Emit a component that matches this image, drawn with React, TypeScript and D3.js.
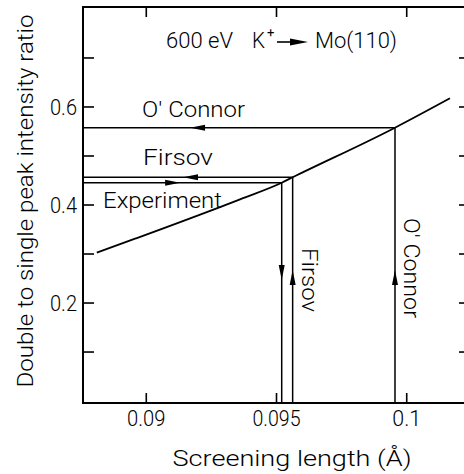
import React, { Component } from "react";
import * as d3 from "d3";

// curve: double/single peak intensity ratio vs screening length
const curveX = [0.0881, 0.08957, 0.0936, 0.0952, 0.09562, 0.09955, 0.10166];
const curveY = [0.3027, 0.3312, 0.4116, 0.4455, 0.4565, 0.5577, 0.6177];

// construction lines (screening length, ratio)
const guideNames = ["Experiment", "Firsov", "O' Connor"];
const guideX = [0.0952, 0.09562, 0.09955];
const guideY = [0.4455, 0.4565, 0.5577];
// arrow tips: horizontal (x value, direction) and vertical (y value, direction)
const hArrowX = [0.0913, 0.09141, 0.09168];
const hArrowDir = [1, -1, -1];
const vArrowY = [0.247, 0.2674, 0.2674];
const vArrowDir = [-1, 1, 1];

const xTicks = [0.09, 0.095, 0.1];
const xTickLabels = ["0.09", "0.095", "0.1"];
const yTicks = [0.1, 0.2, 0.3, 0.4, 0.5, 0.6, 0.7];
const yTickLabels = ["", "0.2", "", "0.4", "", "0.6", ""];

class App extends Component {
    svgRef = React.createRef<SVGSVGElement>();

    componentDidMount() {
        this.draw();
    }

    draw() {
        const svg = d3.select(this.svgRef.current);
        svg.selectAll("*").remove();

        const font = "Roboto, 'DejaVu Sans', sans-serif";
        const fs = "22px";
        const x = d3.scaleLinear().domain([0.08757, 0.10243]).range([83, 470]);
        const y = d3.scaleLinear().domain([-0.004, 0.804]).range([403, 7]);
        const [x0, x1] = x.range();
        const [y0, y1] = y.range();

        // frame
        svg.append("path")
            .attr("d", `M${x0},${y1}H${x1}V${y0}H${x0}Z`)
            .attr("fill", "none")
            .attr("stroke", "#000")
            .attr("stroke-width", 2);

        // y ticks on both sides, pointing in
        yTicks.forEach((t) => {
            svg.append("line")
                .attr("x1", x0).attr("x2", x0 + 11)
                .attr("y1", y(t)).attr("y2", y(t))
                .attr("stroke", "#000").attr("stroke-width", 1.6);
            svg.append("line")
                .attr("x1", x1).attr("x2", x1 - 11)
                .attr("y1", y(t)).attr("y2", y(t))
                .attr("stroke", "#000").attr("stroke-width", 1.6);
        });

        const text = (txt: string, lx: number, ly: number, w: number, anchor = "start") =>
            svg.append("text")
                .attr("x", lx).attr("y", ly)
                .attr("text-anchor", anchor)
                .attr("textLength", w)
                .attr("lengthAdjust", "spacingAndGlyphs")
                .style("font-family", font)
                .style("font-weight", 300)
                .style("font-size", fs)
                .text(txt);

        yTicks.forEach((t, i) => {
            if (!yTickLabels[i]) return;
            text(yTickLabels[i], x0 - 6, y(t) + 8, 27, "end");
        });

        // x ticks top and bottom
        xTicks.forEach((t, i) => {
            svg.append("line")
                .attr("x1", x(t)).attr("x2", x(t))
                .attr("y1", y0).attr("y2", y0 - 10)
                .attr("stroke", "#000").attr("stroke-width", 1.6);
            svg.append("line")
                .attr("x1", x(t)).attr("x2", x(t))
                .attr("y1", y1).attr("y2", y1 + 10)
                .attr("stroke", "#000").attr("stroke-width", 1.6);
            text(xTickLabels[i], x(t), y0 + 23, xTickLabels[i].length * 9.6, "middle");
        });

        // curve
        const pts = curveX.map((v, i) => [v, curveY[i]] as [number, number]);
        const line = d3.line<[number, number]>()
            .x((d) => x(d[0]))
            .y((d) => y(d[1]))
            .curve(d3.curveMonotoneX);
        svg.append("path")
            .attr("d", line(pts))
            .attr("fill", "none")
            .attr("stroke", "#000")
            .attr("stroke-width", 1.8);

        // guide lines
        guideX.forEach((gx, i) => {
            svg.append("path")
                .attr("d", `M${x0},${y(guideY[i])}H${x(gx)}V${y0}`)
                .attr("fill", "none")
                .attr("stroke", "#000")
                .attr("stroke-width", 1.5);
        });

        // dart-like arrowheads
        const len = 15, hw = 3;
        hArrowX.forEach((ax, i) => {
            const tx = x(ax), ty = y(guideY[i]), d = hArrowDir[i];
            svg.append("path")
                .attr("d", `M${tx},${ty}L${tx - d * len},${ty - hw}L${tx - d * len},${ty + hw}Z`)
                .attr("fill", "#000");
        });
        vArrowY.forEach((ay, i) => {
            const tx = x(guideX[i]), ty = y(ay), d = vArrowDir[i];
            svg.append("path")
                .attr("d", `M${tx},${ty}L${tx - hw},${ty + d * len}L${tx + hw},${ty + d * len}Z`)
                .attr("fill", "#000");
        });

        // labels by the horizontal lines
        text(guideNames[2], 142, 117, 103);
        text(guideNames[1], 143, 165, 70);
        text(guideNames[0], 103, 208, 119);

        // rotated labels by the vertical lines
        text(guideNames[1], 0, 0, 64).attr("transform", "translate(302,248) rotate(90)");
        text(guideNames[2], 0, 0, 100).attr("transform", "translate(404,218) rotate(90)");

        // title
        text("600 eV", 166, 48, 67);
        text("K", 252, 48, 13);
        svg.append("text")
            .attr("x", 267).attr("y", 37)
            .style("font-family", font)
            .style("font-size", "13px")
            .text("+");
        svg.append("line")
            .attr("x1", 277).attr("x2", 296)
            .attr("y1", 42).attr("y2", 42)
            .attr("stroke", "#000").attr("stroke-width", 1.6);
        svg.append("path")
            .attr("d", "M308,42L290,38.5L290,45.5Z")
            .attr("fill", "#000");
        text("Mo(110)", 315, 48, 82);

        // axis titles
        text("Double to single peak intensity ratio", 0, 0, 373, "middle")
            .attr("transform", "translate(33,201) rotate(-90)");
        text("Screening length (Å)", 292, 466, 239, "middle");
    }

    render() {
        return (
            <svg
                ref={this.svgRef}
                width={464}
                height={474}
                style={{ position: "absolute", left: 0, top: 0, background: "#fff" }}
            />
        );
    }
}

export default App;
